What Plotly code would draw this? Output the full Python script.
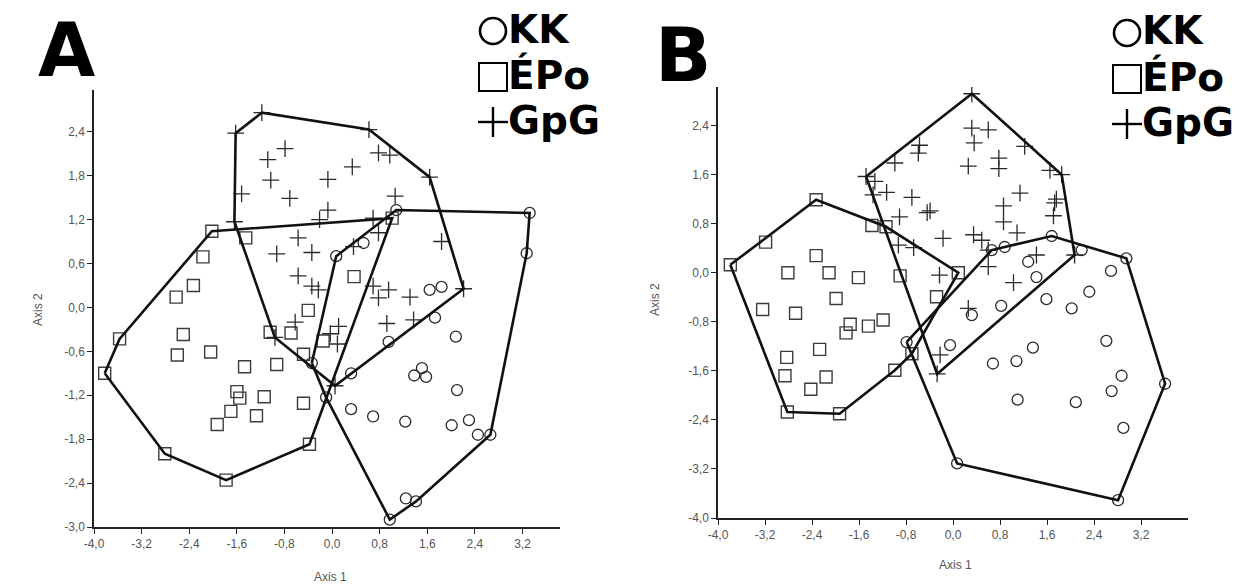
import plotly.graph_objects as go

# ---------------- Panel A data ----------------
A_KK_x = [1.08, 3.32, 3.27, 2.66, 0.97, -0.34, 0.07, 0.53, 1.64, 1.84, 1.73, 2.08, 0.95, 0.32, 1.51, 1.38, 1.58,
          2.10, -0.10, 0.32, 0.69, 1.23, 2.01, 2.30, 2.45, 1.24, 1.41]
A_KK_y = [1.33, 1.29, 0.74, -1.74, -2.90, -0.76, 0.70, 0.88, 0.24, 0.28, -0.14, -0.40, -0.47, -0.90, -0.83, -0.93, -0.95,
          -1.13, -1.23, -1.39, -1.49, -1.56, -1.61, -1.54, -1.74, -2.61, -2.65]

A_EPO_x = [-3.82, -3.57, -2.02, 1.01, -0.38, -1.78, -2.81, -2.33, -2.62, -2.50, -2.60, -2.04, -1.47, -0.93, -1.04,
           -0.69, -0.40, -0.48, -0.15, -1.60, -1.55, -1.14, -1.70, -1.27, -1.93, -0.48, 0.37, -1.45, -2.17]
A_EPO_y = [-0.90, -0.43, 1.04, 1.22, -1.87, -2.36, -2.00, 0.30, 0.14, -0.37, -0.65, -0.61, -0.81, -0.78, -0.34,
           -0.35, -0.04, -0.64, -0.46, -1.15, -1.24, -1.22, -1.42, -1.48, -1.60, -1.31, 0.42, 0.95, 0.69]

A_GPG_x = [-1.62, -1.18, 0.62, 1.64, 2.21, 0.05, -0.96, -1.64, -0.79, -1.08, -1.03, -1.52, -0.71, -0.07, -0.07, -0.21,
           -0.57, -0.93, -0.34, -0.57, -0.34, -0.23, 0.78, 0.97, 0.34, 1.06, 0.69, 0.78, 0.36, 1.84, 0.69, 0.95, 0.78,
           1.31, 0.92, 1.37, -0.62, 0.11, -0.03, 0.09]
A_GPG_y = [2.38, 2.66, 2.43, 1.78, 0.255, -1.07, -0.41, 1.17, 2.17, 2.02, 1.74, 1.55, 1.49, 1.75, 1.33, 1.20,
           0.95, 0.73, 0.75, 0.43, 0.29, 0.24, 2.11, 2.08, 1.92, 1.52, 1.22, 1.02, 0.83, 0.90, 0.29, 0.24, 0.13,
           0.14, -0.22, -0.17, -0.20, -0.26, -0.36, -0.50]

# ---------------- Panel B data ----------------
B_KK_x = [-0.79, 0.66, 0.88, 1.68, 2.95, 3.61, 2.81, 0.07, 2.32, 1.59, 2.02, 0.82, 0.32, -0.05, 1.36, 1.08, 0.68,
          2.61, 2.87, 2.70, 1.10, 2.09, 2.90, 2.19, 1.28, 1.42, 2.69]
B_KK_y = [-1.13, 0.37, 0.42, 0.60, 0.235, -1.81, -3.71, -3.11, -0.31, -0.43, -0.58, -0.54, -0.69, -1.18, -1.22, -1.44,
          -1.48, -1.11, -1.68, -1.93, -2.07, -2.11, -2.53, 0.37, 0.18, -0.07, 0.03]

B_EPO_x = [-3.79, -2.33, 0.09, -0.99, -1.93, -2.82, -3.19, -2.33, -2.81, -2.11, -1.61, -0.90, -1.99, -3.24, -2.68,
           -1.38, -1.14, -0.28, -1.75, -1.82, -1.44, -1.19, -2.83, -2.27, -2.86, -2.16, -2.42, -0.70]
B_EPO_y = [0.13, 1.19, 0.00, -1.59, -2.30, -2.27, 0.50, 0.28, 0.00, 0.00, -0.08, -0.05, -0.42, -0.60, -0.66,
           0.77, 0.75, -0.39, -0.84, -0.98, -0.87, -0.77, -1.38, -1.25, -1.68, -1.70, -1.90, -1.32]

B_GPG_x = [0.32, 1.85, 2.07, -0.27, -1.48, 0.32, 0.60, 0.36, 1.22, 0.26, 0.78, 0.78, 1.65, 1.14, 0.86, 0.86, 1.76,
           1.73, 1.71, 1.09, -0.17, 0.35, 0.49, 0.60, 1.42, 0.60, 1.03, 0.26, -0.99, -0.57, -0.59, -1.33, -1.13,
           -1.36, -0.70, -0.91, -0.44, -0.39, -0.93, -0.67, -0.23, -0.22]
B_GPG_y = [2.92, 1.60, 0.29, -1.65, 1.57, 2.36, 2.33, 2.12, 2.06, 1.74, 1.87, 1.70, 1.67, 1.30, 1.09, 0.83, 1.20,
           1.14, 0.93, 0.65, 0.56, 0.62, 0.53, 0.37, 0.29, 0.10, -0.16, -0.58, 1.79, 2.08, 1.95, 1.49, 1.31,
           1.27, 1.23, 0.91, 0.98, 1.01, 0.45, 0.41, -0.04, -1.34]

# ---------------- tick labels ----------------
A_XTICKS = [-4.0, -3.2, -2.4, -1.6, -0.8, 0.0, 0.8, 1.6, 2.4, 3.2]
A_XTICKTEXT = ["-4,0", "-3,2", "-2,4", "-1,6", "-0,8", "0,0", "0,8", "1,6", "2,4", "3,2"]
A_YTICKS = [-3.0, -2.4, -1.8, -1.2, -0.6, 0.0, 0.6, 1.2, 1.8, 2.4]
A_YTICKTEXT = ["-3,0", "-2,4", "-1,8", "-1,2", "-0,6", "0,0", "0,6", "1,2", "1,8", "2,4"]
B_XTICKS = [-4.0, -3.2, -2.4, -1.6, -0.8, 0.0, 0.8, 1.6, 2.4, 3.2]
B_XTICKTEXT = ["-4,0", "-3,2", "-2,4", "-1,6", "-0,8", "0,0", "0,8", "1,6", "2,4", "3,2"]
B_YTICKS = [-4.0, -3.2, -2.4, -1.6, -0.8, 0.0, 0.8, 1.6, 2.4]
B_YTICKTEXT = ["-4,0", "-3,2", "-2,4", "-1,6", "-0,8", "0,0", "0,8", "1,6", "2,4"]

GROUPS = ["KK", "ÉPo", "GpG"]


def convex_hull(xs, ys):
    pts = sorted(set(zip(xs, ys)))
    if len(pts) < 3:
        return pts

    def cross(o, a, b):
        return (a[0] - o[0]) * (b[1] - o[1]) - (a[1] - o[1]) * (b[0] - o[0])

    lower, upper = [], []
    for p in pts:
        while len(lower) >= 2 and cross(lower[-2], lower[-1], p) <= 0:
            lower.pop()
        lower.append(p)
    for p in reversed(pts):
        while len(upper) >= 2 and cross(upper[-2], upper[-1], p) <= 0:
            upper.pop()
        upper.append(p)
    hull = lower[:-1] + upper[:-1]
    return hull + [hull[0]]


SYM = {"KK": "circle-open", "ÉPo": "square-open", "GpG": "cross-thin-open"}
MSIZE = {"KK": 11, "ÉPo": 12, "GpG": 12}
MLW = {"KK": 1.3, "ÉPo": 1.4, "GpG": 1.3}
MC = {"KK": "#2a2a2a", "ÉPo": "#3c3c3c", "GpG": "#2a2a2a"}

fig = go.Figure()

panels = [
    ("x", "y", [("KK", A_KK_x, A_KK_y), ("ÉPo", A_EPO_x, A_EPO_y), ("GpG", A_GPG_x, A_GPG_y)]),
    ("x2", "y2", [("KK", B_KK_x, B_KK_y), ("ÉPo", B_EPO_x, B_EPO_y), ("GpG", B_GPG_x, B_GPG_y)]),
]

for xa, ya, groups in panels:
    for name, gx, gy in groups:
        fig.add_trace(go.Scatter(
            x=gx, y=gy, mode="markers", xaxis=xa, yaxis=ya, showlegend=False, name=name,
            marker=dict(symbol=SYM[name], size=MSIZE[name], color=MC[name],
                        line=dict(width=MLW[name], color=MC[name])),
        ))
    for name, gx, gy in groups:
        h = convex_hull(gx, gy)
        fig.add_trace(go.Scatter(
            x=[p[0] for p in h], y=[p[1] for p in h], mode="lines", xaxis=xa, yaxis=ya,
            showlegend=False, hoverinfo="skip",
            line=dict(color="#111111", width=2.6),
        ))

# the page body adds an 8px margin: figure is drawn 8px in from the window corner
OFF = 8
W, H = 1250 - OFF, 585 - OFF
TICKFONT = dict(family="Liberation Sans, Arial, sans-serif", size=12, color="#555555")


def fx(p):  # window x pixel -> paper fraction
    return (p - OFF) / W


def fy(p):  # window y pixel -> paper fraction
    return 1 - (p - OFF) / H


def axis_common():
    return dict(showgrid=False, zeroline=False, showline=True, linecolor="#222222", linewidth=1.5,
                ticks="outside", ticklen=5, tickwidth=1.3, tickcolor="#222222", tickfont=TICKFONT,
                fixedrange=True)


fig.update_layout(
    width=W, height=H,
    margin=dict(l=0, r=0, t=0, b=0, pad=0, autoexpand=False),
    paper_bgcolor="white", plot_bgcolor="white",
    xaxis=dict(domain=[fx(94), fx(560)], range=[-4.0, 3.83], anchor="y",
               tickvals=A_XTICKS, ticktext=A_XTICKTEXT, **axis_common()),
    yaxis=dict(domain=[fy(527), fy(90)], range=[-3.0, 2.97], anchor="x",
               tickvals=A_YTICKS, ticktext=A_YTICKTEXT, **axis_common()),
    xaxis2=dict(domain=[fx(718), fx(1188)], range=[-4.0, 4.0], anchor="y2",
                tickvals=B_XTICKS, ticktext=B_XTICKTEXT, **axis_common()),
    yaxis2=dict(domain=[fy(518), fy(87)], range=[-4.0, 3.03], anchor="x2",
                tickvals=B_YTICKS, ticktext=B_YTICKTEXT, **axis_common()),
)

ann = []
shapes = []
AXFONT = dict(family="Liberation Sans, Arial, sans-serif", size=12, color="#555555")
BIGFONT = dict(family="DejaVu Sans, Arial, sans-serif", size=74, color="black")
LEGFONT = dict(family="DejaVu Sans, Arial, sans-serif", size=39, color="black")

# axis titles
for (tx, ty, txt, ang) in [(330, 577, "Axis 1", 0), (38, 310, "Axis 2", -90),
                           (955, 565, "Axis 1", 0), (655, 300, "Axis 2", -90)]:
    ann.append(dict(x=fx(tx), y=fy(ty), xref="paper", yref="paper", text=txt, showarrow=False,
                    textangle=ang, font=AXFONT, xanchor="center", yanchor="middle"))

# panel letters
for (tx, ty, txt) in [(66, 50, "A"), (683, 55, "B")]:
    ann.append(dict(x=fx(tx), y=fy(ty), xref="paper", yref="paper", text="<b>%s</b>" % txt, showarrow=False,
                    font=BIGFONT, xanchor="center", yanchor="middle"))

# custom legends
for (lx, ly) in [(493, 31), (1127, 33)]:
    rows = [(ly, "KK", "circle"), (ly + 46, "ÉPo", "square"), (ly + 91, "GpG", "plus")]
    for (ry, label, kind) in rows:
        r = 13
        if kind == "circle":
            shapes.append(dict(type="circle", xref="paper", yref="paper",
                               x0=fx(lx - r), x1=fx(lx + r), y0=fy(ry + r), y1=fy(ry - r),
                               line=dict(color="black", width=2.6)))
        elif kind == "square":
            shapes.append(dict(type="rect", xref="paper", yref="paper",
                               x0=fx(lx - r - 1), x1=fx(lx + r + 1), y0=fy(ry + r + 1), y1=fy(ry - r - 1),
                               line=dict(color="black", width=2.0)))
        else:
            shapes.append(dict(type="line", xref="paper", yref="paper",
                               x0=fx(lx - 15), x1=fx(lx + 15), y0=fy(ry), y1=fy(ry),
                               line=dict(color="black", width=2.4)))
            shapes.append(dict(type="line", xref="paper", yref="paper",
                               x0=fx(lx), x1=fx(lx), y0=fy(ry - 15), y1=fy(ry + 15),
                               line=dict(color="black", width=2.4)))
        ann.append(dict(x=fx(lx + 13), y=fy(ry - 2), xref="paper", yref="paper", text="<b>%s</b>" % label,
                        showarrow=False, font=LEGFONT, xanchor="left", yanchor="middle"))

fig.update_layout(annotations=ann, shapes=shapes)

fig.write_html("out.html")
